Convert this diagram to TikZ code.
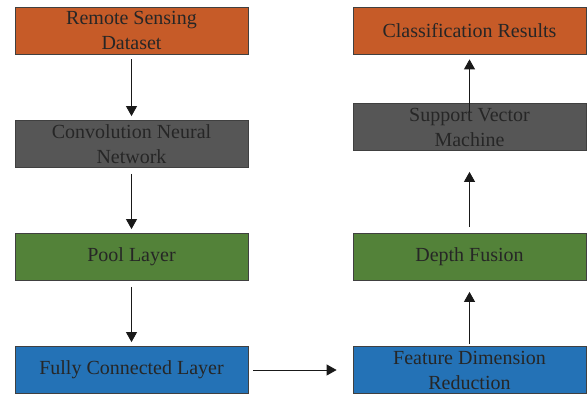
\documentclass[tikz,border=0pt]{standalone}
\usepackage{fontspec}
\setmainfont{Liberation Serif}
\usetikzlibrary{arrows.meta}
\definecolor{boxorange}{HTML}{C65B28}
\definecolor{boxgray}{HTML}{565656}
\definecolor{boxgreen}{HTML}{538239}
\definecolor{boxblue}{HTML}{2472B6}
\tikzset{
 stage/.style={draw=black!75,line width=0.8pt,minimum width=233pt,minimum height=47pt,
   align=center,text=black!85,font=\fontsize{20}{25}\selectfont,inner sep=0pt},
 flow/.style={-{Triangle[width=11pt,length=10pt]},line width=0.9pt,black!90}
}
\begin{document}
\begin{tikzpicture}[x=1pt,y=1pt]
 \useasboundingbox (0,0) rectangle (587,394);
 % left column
 \node[stage,fill=boxorange] (data) at (131.5,363.5) {Remote Sensing\\Dataset};
 \node[stage,fill=boxgray] (cnn) at (131.5,250) {Convolution Neural\\Network};
 \node[stage,fill=boxgreen] (pool) at (131.5,137) {Pool Layer};
 \node[stage,fill=boxblue] (fc) at (131.5,24) {Fully Connected Layer};
 % right column
 \node[stage,fill=boxblue] (fdr) at (469.5,24) {Feature Dimension\\Reduction};
 \node[stage,fill=boxgreen] (fuse) at (469.5,137) {Depth Fusion};
 \node[stage,fill=boxgray] (svm) at (469.5,267) {Support Vector\\Machine};
 \node[stage,fill=boxorange] (res) at (469.5,363.5) {Classification Results};
 % arrows
 \draw[flow] ([yshift=-5pt]data.south) -- ([yshift=4pt]cnn.north);
 \draw[flow] ([yshift=-6pt]cnn.south) -- ([yshift=4pt]pool.north);
 \draw[flow] ([yshift=-6pt]pool.south) -- ([yshift=4pt]fc.north);
 \draw[flow] ([xshift=5pt]fc.east) -- ([xshift=-16pt]fdr.west);
 \draw[flow] ([yshift=2pt]fdr.north) -- ([yshift=-11pt]fuse.south);
 \draw[flow] ([yshift=6pt]fuse.north) -- ([yshift=-21pt]svm.south);
 \draw[flow] ([yshift=-9pt]svm.north) -- ([yshift=-5pt]res.south);
\end{tikzpicture}
\end{document}
